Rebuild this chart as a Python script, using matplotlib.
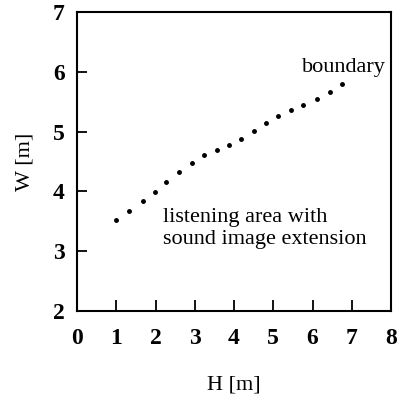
import numpy as np
import matplotlib
matplotlib.use('Agg')
import matplotlib.pyplot as plt

# boundary points
h_vals = [0.99, 1.33, 1.67, 1.99, 2.28, 2.61, 2.92, 3.24, 3.56, 3.86,
          4.17, 4.51, 4.81, 5.13, 5.45, 5.77, 6.11, 6.45, 6.75]
w_vals = [3.52, 3.68, 3.84, 3.99, 4.15, 4.32, 4.48, 4.61, 4.69, 4.78,
          4.88, 5.01, 5.14, 5.26, 5.36, 5.44, 5.55, 5.67, 5.79]

x_ticks = [0, 1, 2, 3, 4, 5, 6, 7, 8]
y_ticks = [2, 3, 4, 5, 6, 7]

plt.rcParams['font.family'] = ['Liberation Serif', 'DejaVu Serif']

fig = plt.figure(figsize=(4.0, 3.99), dpi=100)
ax = fig.add_axes([0.1925, 0.2206, 0.785, 0.749])

ax.plot(h_vals, w_vals, linestyle='none', marker='o', markersize=2.5, color='black')

ax.set_xlim(0, 8)
ax.set_ylim(2, 7)
ax.set_xticks(x_ticks)
ax.set_yticks(y_ticks)
ax.set_xticklabels([str(t) for t in x_ticks], fontsize=17, fontweight='bold')
ax.set_yticklabels([str(t) for t in y_ticks], fontsize=17, fontweight='bold')
ax.tick_params(axis='x', direction='in', length=8, width=1.3, pad=12)
ax.tick_params(axis='y', direction='in', length=7, width=1.3, pad=9)

for s in ax.spines.values():
    s.set_linewidth(1.5)

ax.set_xlabel('H [m]', fontsize=16, labelpad=19)
ax.set_ylabel('W [m]', fontsize=16, labelpad=13)

ax.text(5.73, 6.08, 'boundary', fontsize=16, va='center', ha='left')
ax.text(2.19, 3.38, 'listening area with\nsound image extension', fontsize=16,
        va='center', ha='left', linespacing=1.25)

plt.savefig('out.png', dpi=100)
plt.close(fig)
